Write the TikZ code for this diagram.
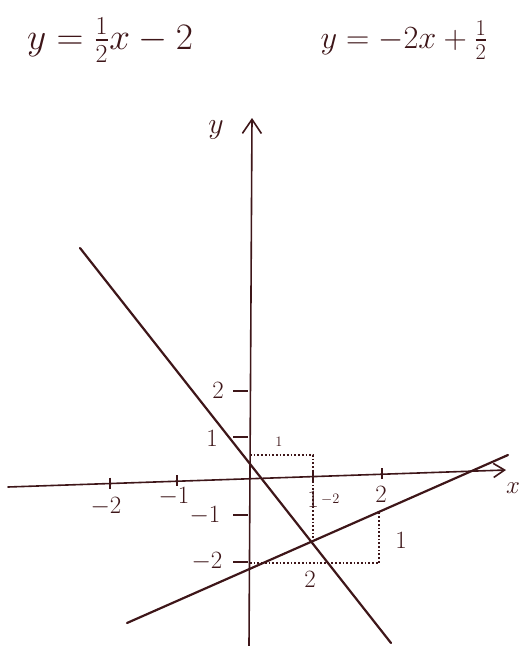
\documentclass[tikz,border=0pt]{standalone}
\usepackage{amsmath, amssymb}
\usepackage{graphicx}
\usepackage{xcolor}
\usepackage{tikz}
\usetikzlibrary{
  arrows.meta,
  positioning,
  calc
}
\definecolor{ink}{HTML}{3E1619}

\begin{document}
\begin{tikzpicture}[x=1pt, y=-1pt,
  pen/.style={draw=ink, line width=2.2pt, line cap=round},
  axisline/.style={draw=ink, line width=1.6pt, line cap=round},
  tickmark/.style={draw=ink, line width=1.6pt},
  guide/.style={draw=ink, line width=1.7pt, dotted},
  ticklbl/.style={text=ink, inner sep=1pt, font=\fontsize{24}{26}\selectfont},
  smalllbl/.style={text=ink, inner sep=1pt, font=\fontsize{14}{16}\selectfont},
  eqn/.style={text=ink, inner sep=0pt, font=\fontsize{24}{28}\selectfont}]
\useasboundingbox (0,0) rectangle (522,646);

% the two equations
\node[eqn] (eqA) at (110,40) {\scalebox{1.5}{$y=\frac{1}{2}x-2$}};
\node[eqn] (eqB) at (404,40) {\scalebox{1.3}{$y=-2x+\frac{1}{2}$}};

% axes
\coordinate (xL) at (8,487);
\coordinate (xR) at (506,470);
\coordinate (yB) at (249,646);
\coordinate (yT) at (252,118);
\draw[axisline, -{Straight Barb[length=11pt, width=14pt, line width=1.6pt]}] (xL) -- (xR);
\draw[axisline, -{Straight Barb[length=14pt, width=19pt, line width=1.6pt]}] (yB) -- (yT);
\node[text=ink, font=\fontsize{24}{26}\selectfont] (xlbl) at (513,488) {$x$};
\node[text=ink, font=\fontsize{24}{28}\selectfont] (ylbl) at (216,130) {\scalebox{1.2}{$y$}};

% ticks on the x-axis
\foreach \tx/\name in {110/m2, 177/m1, 313/p1, 382/p2}
  \coordinate (t\name) at ($(xL)!{(\tx-8)/498}!(xR)$);
\foreach \name in {m2, m1, p1, p2}
  \draw[tickmark] ($(t\name)+(0,-6)$) -- ($(t\name)+(0,5)$);
\node[ticklbl] (lm2) at (106,507) {$-2$};
\node[ticklbl] (lm1) at (174,497) {$-1$};
\node[ticklbl] (lp1) at (313,499) {$1$};
\node[smalllbl, right=0pt of lp1] (lp1b) {$-2$};
\node[ticklbl] (lp2) at (381,494) {$2$};

% ticks on the y-axis
\foreach \ty/\name in {391/p2, 437/p1, 515/m1, 562/m2}
  \draw[tickmark] (233,\ty) -- (248,\ty);
\node[ticklbl] (ly2) at (218,390) {$2$};
\node[ticklbl] (ly1) at (212,438) {$1$};
\node[ticklbl] (lym1) at (205,516) {$-1$};
\node[ticklbl] (lym2) at (207,562) {$-2$};

% the two lines
\coordinate (l1a) at (80,248);
\coordinate (l1b) at (391,643);
\coordinate (l2a) at (127,623);
\coordinate (l2b) at (508,455);
\draw[pen] (l1a) -- (l1b);
\draw[pen] (l2a) -- (l2b);

% slope steps
\coordinate (s1a) at (250,455);
\coordinate (s1b) at (313,455);
\coordinate (s1c) at (313,540);
\draw[guide] (s1a) -- (s1b) -- (s1c);
\node[smalllbl] (s1lbl) at (279,442) {$1$};

\coordinate (s2a) at (250,563);
\coordinate (s2b) at (379,563);
\coordinate (s2c) at (379,513);
\draw[guide] (s2a) -- (s2b) -- (s2c);
\node[ticklbl] (s2lblx) at (310,579) {$2$};
\node[ticklbl] (s2lbly) at (401,540) {$1$};
\end{tikzpicture}
\end{document}
